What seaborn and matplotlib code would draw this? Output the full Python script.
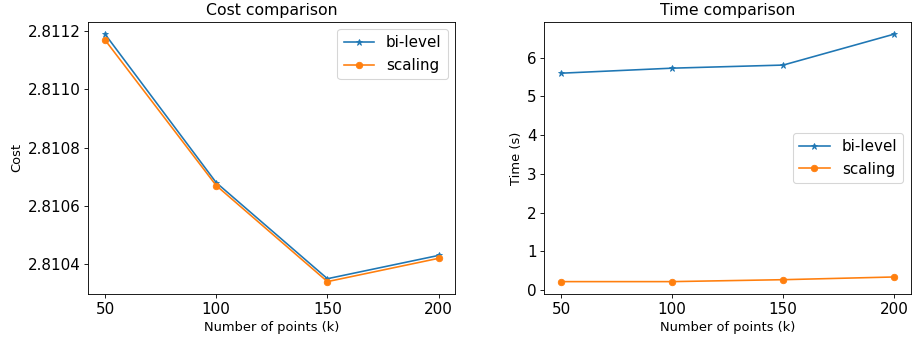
import numpy as np
import pandas as pd
import matplotlib
matplotlib.use("Agg")
import matplotlib.pyplot as plt
import matplotlib.ticker as mticker
import seaborn as sns

pontos = [50, 100, 150, 200]
custo_bilevel = [2.81119, 2.81068, 2.81035, 2.81043]
custo_scaling = [2.81117, 2.81067, 2.81034, 2.81042]
tempo_bilevel = [5.60, 5.73, 5.81, 6.61]
tempo_scaling = [0.22, 0.22, 0.27, 0.34]

cores = {"bi-level": "#1f77b4", "scaling": "#ff7f0e"}
marcadores = {"bi-level": "*", "scaling": "o"}

dpi = 78
fig = plt.figure(figsize=(912 / dpi, 343 / dpi), dpi=dpi)
ax1 = fig.add_axes([88.3 / 912, 1 - 294 / 343, (455.3 - 88.3) / 912, (294 - 21.7) / 343])
ax2 = fig.add_axes([544.3 / 912, 1 - 294 / 343, (911 - 544.3) / 912, (294 - 21.7) / 343])


def desenhar(ax, serie_a, serie_b):
    for nome, valores in [("bi-level", serie_a), ("scaling", serie_b)]:
        df = pd.DataFrame({"k": pontos, "v": valores})
        sns.lineplot(data=df, x="k", y="v", ax=ax, color=cores[nome], marker=marcadores[nome],
                     markersize=6, markeredgecolor=cores[nome],
                     linewidth=1.5, label=nome)
    ax.set_xticks(pontos)
    ax.tick_params(axis="both", labelsize=14)
    ax.set_xlabel("Number of points (k)", fontsize=12)


desenhar(ax1, custo_bilevel, custo_scaling)
ax1.set_title("Cost comparison", fontsize=14.5)
ax1.set_ylabel("Cost", fontsize=12)
ax1.set_yticks([2.8104, 2.8106, 2.8108, 2.8110, 2.8112])
ax1.yaxis.set_major_formatter(mticker.FormatStrFormatter("%.4f"))
ax1.legend(loc="upper right", fontsize=14)

desenhar(ax2, tempo_bilevel, tempo_scaling)
ax2.set_title("Time comparison", fontsize=14.5)
ax2.set_ylabel("Time (s)", fontsize=12)
ax2.set_yticks([0, 1, 2, 3, 4, 5, 6])
ax2.legend(loc="center right", fontsize=14)

plt.savefig("out.png", dpi=dpi)
plt.close()
